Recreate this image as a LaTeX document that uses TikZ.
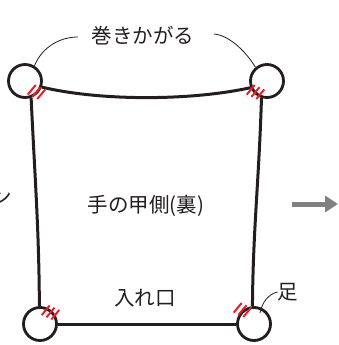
\documentclass[tikz,border=0pt]{standalone}
\usepackage{fontspec}
\setmainfont{Noto Sans CJK JP}
\usetikzlibrary{arrows.meta}
\definecolor{stitch}{RGB}{235,30,40}
\definecolor{ink}{RGB}{35,30,30}
\definecolor{arrowgray}{RGB}{128,128,128}
\begin{document}
\begin{tikzpicture}[x=1pt,y=-1pt,
  corner/.style={circle,draw=ink,line width=2.8pt,minimum size=33pt,inner sep=0pt},
  edge/.style={draw=ink,line width=3pt},
  leader/.style={draw=ink,line width=0.8pt},
  stitches/.style={draw=stitch,line width=2pt},
  lbl/.style={font=\fontsize{20.5}{24}\selectfont,text=ink,inner sep=0pt},
  stitchmark/.pic={\foreach \k in {-1,0,1} \draw[stitches,shift={(\k*4.8,\k*2.2)}] (-4,4.8) -- (4,-4.8);}]
\useasboundingbox (0,0) rectangle (338,345);
% corners
\node[corner] (tl) at (25,81) {};
\node[corner] (tr) at (267,81) {};
\node[corner] (bl) at (40,324) {};
\node[corner] (br) at (254,324) {};
% edges
\draw[edge] (tl.-20) .. controls (100,101) and (190,101) .. (tr.-158);
\draw[edge] (tl.-70) .. controls (35,180) and (39,230) .. (bl.92);
\draw[edge] (tr.-108) .. controls (259,180) and (253,230) .. (br.95);
\draw[edge] (bl.east) -- (br.west);
% stitches
\pic at (36.5,92) {stitchmark};
\pic at (255.5,92) {stitchmark};
\pic at (50.5,312.5) {stitchmark};
\pic at (242.5,310) {stitchmark};
% labels
\node[lbl] (roll) at (143,36) {巻きかがる};
\node[lbl] (back) at (146,206) {手の甲側(裏)};
\node[lbl] (mouth) at (145,298) {入れ口};
\node[lbl] (foot) at (288,292) {足};
\node[lbl] (cut) at (1.5,197) {ン};
% leaders
\coordinate (rollL) at (78,37);
\coordinate (rollR) at (214,34);
\coordinate (footpt) at (260,313);
\draw[leader] (rollL) .. controls (60,37) and (42,47) .. (tl.58);
\draw[leader] (rollR) .. controls (228,35) and (245,50) .. (tr.130);
\draw[leader] (footpt) .. controls (262,303) and (268,294) .. (foot.west);
% arrow
\coordinate (arrL) at (292,204);
\coordinate (arrR) at (338,204);
\draw[arrowgray,line width=5pt,-{Triangle[length=13pt,width=16pt]}] (arrL) -- (arrR);
\end{tikzpicture}
\end{document}
